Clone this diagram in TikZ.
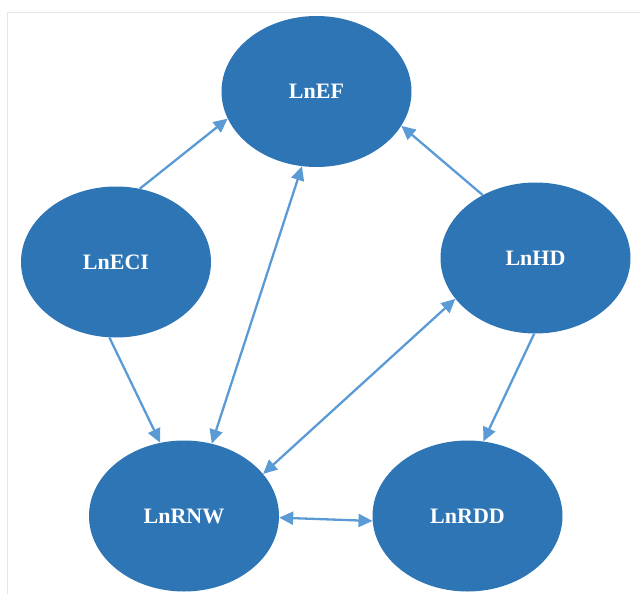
\documentclass[tikz,border=0pt]{standalone}
\usepackage{fontspec}
\setmainfont{Liberation Serif}
\usetikzlibrary{arrows.meta,shapes.geometric}
\definecolor{nodeblue}{HTML}{2E75B6}
\definecolor{arrowblue}{HTML}{5B9BD5}
\definecolor{framegray}{HTML}{E6E6E6}
\tikzset{
  var/.style={ellipse, fill=nodeblue, draw=none, minimum width=190pt, minimum height=151pt,
    inner sep=0pt, text=white, font=\fontsize{22}{26}\selectfont\bfseries},
  link/.style={draw=arrowblue, line width=2.3pt, -{Triangle[length=14pt,width=13pt]}},
  dlink/.style={draw=arrowblue, line width=2.3pt, {Triangle[length=14pt,width=13pt]}-{Triangle[length=14pt,width=13pt]}}
}
\begin{document}
\begin{tikzpicture}[x=1pt,y=-1pt]
\useasboundingbox (0,0) rectangle (640,594);
\draw[framegray, line width=0.8pt] (7,594) -- (7,12) -- (640,12);
\node[var] (ef)  at (316.5,91.5) {LnEF};
\node[var] (eci) at (116,262) {LnECI};
\node[var] (hd)  at (535.5,258) {LnHD};
\node[var] (rnw) at (184,516) {LnRNW};
\node[var] (rdd) at (467.5,516) {LnRDD};
\draw[link] (eci.72.7) -- (ef.197.3);
\draw[dlink] (rnw.69) -- (ef.259.3);
\draw[link] (hd.130.9) -- (ef.-22.3);
\draw[link] (eci.265.4) -- (rnw.108.9);
\draw[dlink] (rnw.28.5) -- (hd.207.9);
\draw[link] (hd.269.6) -- (rdd.78);
\draw[dlink] (rnw.-1.8) -- (rdd.183.6);
\end{tikzpicture}
\end{document}
